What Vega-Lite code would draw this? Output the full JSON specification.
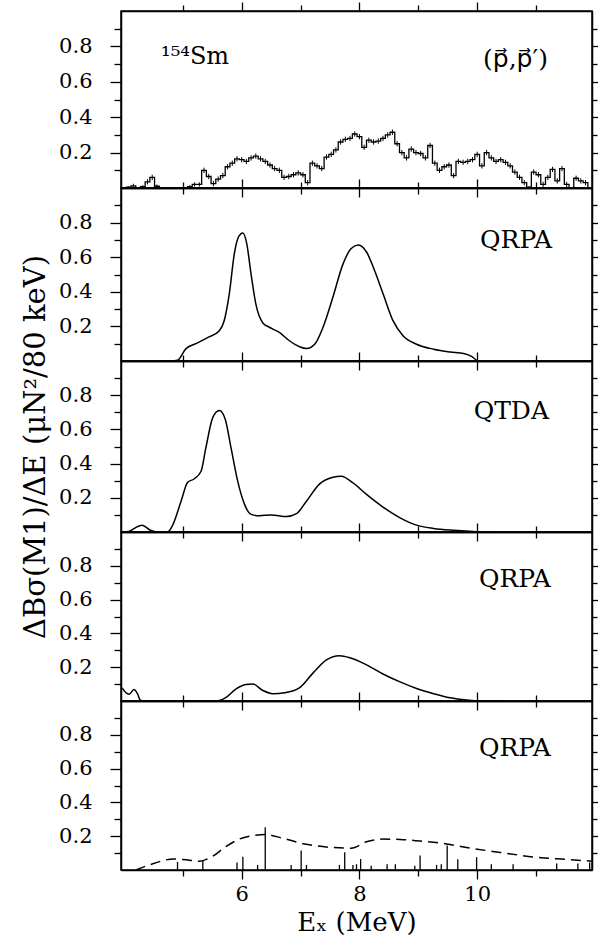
{
  "$schema": "https://vega.github.io/schema/vega-lite/v6.json",
  "padding": {"left": 20, "top": 0, "right": 5, "bottom": 5},
  "spacing": 0,
  "bounds": "flush",
  "datasets": {
    "exp": [
      {"E":4.00,"v":0.0,"err":0},{"E":4.08,"v":0.005,"err":0.005},{"E":4.16,"v":0.012,"err":0.012},{"E":4.24,"v":0.0,"err":0},{"E":4.32,"v":0.008,"err":0.008},
      {"E":4.40,"v":0.035,"err":0.015},{"E":4.48,"v":0.06,"err":0.015},{"E":4.56,"v":0.01,"err":0.01},{"E":4.64,"v":0.0,"err":0},{"E":4.72,"v":0.0,"err":0},
      {"E":4.80,"v":0.0,"err":0},{"E":4.88,"v":0.0,"err":0},{"E":4.96,"v":0.0,"err":0},{"E":5.04,"v":0.0,"err":0},{"E":5.12,"v":0.008,"err":0.008},
      {"E":5.20,"v":0.02,"err":0.012},{"E":5.28,"v":0.02,"err":0.012},{"E":5.36,"v":0.1,"err":0.015},{"E":5.44,"v":0.065,"err":0.015},{"E":5.52,"v":0.025,"err":0.015},
      {"E":5.60,"v":0.05,"err":0.015},{"E":5.68,"v":0.07,"err":0.015},{"E":5.76,"v":0.12,"err":0.015},{"E":5.84,"v":0.14,"err":0.015},{"E":5.92,"v":0.165,"err":0.015},
      {"E":6.00,"v":0.16,"err":0.015},{"E":6.08,"v":0.15,"err":0.015},{"E":6.16,"v":0.17,"err":0.015},{"E":6.24,"v":0.18,"err":0.015},{"E":6.32,"v":0.165,"err":0.015},
      {"E":6.40,"v":0.15,"err":0.015},{"E":6.48,"v":0.13,"err":0.015},{"E":6.56,"v":0.11,"err":0.015},{"E":6.64,"v":0.1,"err":0.015},{"E":6.72,"v":0.06,"err":0.015},
      {"E":6.80,"v":0.065,"err":0.015},{"E":6.88,"v":0.075,"err":0.015},{"E":6.96,"v":0.085,"err":0.015},{"E":7.04,"v":0.075,"err":0.015},{"E":7.12,"v":0.03,"err":0.015},
      {"E":7.20,"v":0.14,"err":0.015},{"E":7.28,"v":0.125,"err":0.015},{"E":7.36,"v":0.11,"err":0.015},{"E":7.44,"v":0.175,"err":0.015},{"E":7.52,"v":0.19,"err":0.015},
      {"E":7.60,"v":0.215,"err":0.015},{"E":7.68,"v":0.26,"err":0.015},{"E":7.76,"v":0.275,"err":0.015},{"E":7.84,"v":0.28,"err":0.015},{"E":7.92,"v":0.305,"err":0.015},
      {"E":8.00,"v":0.29,"err":0.015},{"E":8.08,"v":0.23,"err":0.015},{"E":8.16,"v":0.27,"err":0.015},{"E":8.24,"v":0.26,"err":0.015},{"E":8.32,"v":0.265,"err":0.015},
      {"E":8.40,"v":0.28,"err":0.015},{"E":8.48,"v":0.3,"err":0.015},{"E":8.56,"v":0.315,"err":0.015},{"E":8.64,"v":0.25,"err":0.015},{"E":8.72,"v":0.2,"err":0.015},
      {"E":8.80,"v":0.17,"err":0.015},{"E":8.88,"v":0.22,"err":0.015},{"E":8.96,"v":0.2,"err":0.015},{"E":9.04,"v":0.195,"err":0.015},{"E":9.12,"v":0.17,"err":0.015},
      {"E":9.20,"v":0.24,"err":0.015},{"E":9.28,"v":0.14,"err":0.015},{"E":9.36,"v":0.1,"err":0.015},{"E":9.44,"v":0.12,"err":0.015},{"E":9.52,"v":0.13,"err":0.015},
      {"E":9.60,"v":0.07,"err":0.015},{"E":9.68,"v":0.15,"err":0.015},{"E":9.76,"v":0.145,"err":0.015},{"E":9.84,"v":0.15,"err":0.015},{"E":9.92,"v":0.16,"err":0.015},
      {"E":10.00,"v":0.19,"err":0.015},{"E":10.08,"v":0.125,"err":0.015},{"E":10.16,"v":0.2,"err":0.015},{"E":10.24,"v":0.17,"err":0.015},{"E":10.32,"v":0.15,"err":0.015},
      {"E":10.40,"v":0.16,"err":0.015},{"E":10.48,"v":0.145,"err":0.015},{"E":10.56,"v":0.125,"err":0.015},{"E":10.64,"v":0.09,"err":0.015},{"E":10.72,"v":0.06,"err":0.015},
      {"E":10.80,"v":0.03,"err":0.015},{"E":10.88,"v":0.005,"err":0.005},{"E":10.96,"v":0.09,"err":0.015},{"E":11.04,"v":0.075,"err":0.015},{"E":11.12,"v":0.02,"err":0.015},
      {"E":11.20,"v":0.06,"err":0.015},{"E":11.28,"v":0.105,"err":0.015},{"E":11.36,"v":0.04,"err":0.015},{"E":11.44,"v":0.11,"err":0.015},{"E":11.52,"v":0.02,"err":0.015},
      {"E":11.60,"v":0.0,"err":0},{"E":11.68,"v":0.055,"err":0.015},{"E":11.76,"v":0.04,"err":0.015},{"E":11.84,"v":0.03,"err":0.015},{"E":11.92,"v":0.0,"err":0}
    ],
    "qrpa1": [
      {"E":4.6,"v":0},{"E":4.75,"v":0},{"E":4.91,"v":0.005},{"E":5.05,"v":0.07},{"E":5.22,"v":0.1},{"E":5.42,"v":0.135},{"E":5.62,"v":0.175},
      {"E":5.7,"v":0.23},{"E":5.79,"v":0.39},{"E":5.875,"v":0.62},{"E":5.95,"v":0.72},{"E":6.02,"v":0.74},{"E":6.085,"v":0.68},{"E":6.16,"v":0.5},
      {"E":6.24,"v":0.33},{"E":6.36,"v":0.22},{"E":6.47,"v":0.195},{"E":6.64,"v":0.165},{"E":6.81,"v":0.117},{"E":6.98,"v":0.083},{"E":7.1,"v":0.072},
      {"E":7.24,"v":0.097},{"E":7.38,"v":0.194},{"E":7.55,"v":0.37},{"E":7.72,"v":0.56},{"E":7.86,"v":0.65},{"E":7.98,"v":0.67},{"E":8.12,"v":0.63},
      {"E":8.26,"v":0.52},{"E":8.4,"v":0.39},{"E":8.57,"v":0.233},{"E":8.74,"v":0.146},{"E":8.97,"v":0.097},{"E":9.26,"v":0.068},{"E":9.54,"v":0.052},
      {"E":9.77,"v":0.043},{"E":9.91,"v":0.025},{"E":10.0,"v":0}
    ],
    "qtda": [
      {"E":3.97,"v":0},{"E":4.08,"v":0.003},{"E":4.17,"v":0.02},{"E":4.31,"v":0.04},{"E":4.45,"v":0.01},{"E":4.57,"v":0},{"E":4.74,"v":0},
      {"E":4.82,"v":0.035},{"E":4.97,"v":0.18},{"E":5.08,"v":0.29},{"E":5.19,"v":0.31},{"E":5.31,"v":0.355},{"E":5.39,"v":0.49},{"E":5.51,"v":0.67},
      {"E":5.62,"v":0.71},{"E":5.72,"v":0.66},{"E":5.82,"v":0.49},{"E":5.93,"v":0.3},{"E":6.05,"v":0.16},{"E":6.16,"v":0.103},{"E":6.3,"v":0.095},
      {"E":6.5,"v":0.1},{"E":6.76,"v":0.09},{"E":6.93,"v":0.107},{"E":7.1,"v":0.18},{"E":7.32,"v":0.28},{"E":7.55,"v":0.32},{"E":7.69,"v":0.326},
      {"E":7.89,"v":0.287},{"E":8.12,"v":0.22},{"E":8.4,"v":0.146},{"E":8.69,"v":0.083},{"E":8.97,"v":0.04},{"E":9.26,"v":0.021},{"E":9.6,"v":0.01},
      {"E":10.0,"v":0.002},{"E":10.28,"v":0}
    ],
    "qrpa2": [
      {"E":3.97,"v":0.078},{"E":4.03,"v":0.05},{"E":4.09,"v":0.04},{"E":4.17,"v":0.068},{"E":4.23,"v":0.043},{"E":4.28,"v":0.004},{"E":4.34,"v":0},
      {"E":5.56,"v":0},{"E":5.73,"v":0.02},{"E":5.9,"v":0.07},{"E":6.07,"v":0.097},{"E":6.19,"v":0.1},{"E":6.36,"v":0.062},{"E":6.53,"v":0.043},
      {"E":6.73,"v":0.049},{"E":6.98,"v":0.078},{"E":7.21,"v":0.165},{"E":7.44,"v":0.243},{"E":7.66,"v":0.268},{"E":7.84,"v":0.256},{"E":8.12,"v":0.214},
      {"E":8.4,"v":0.16},{"E":8.69,"v":0.113},{"E":8.97,"v":0.074},{"E":9.26,"v":0.043},{"E":9.54,"v":0.019},{"E":9.82,"v":0.006},{"E":10.1,"v":0},{"E":10.4,"v":0}
    ],
    "qrpa3": [
      {"E":4.2,"v":0},{"E":4.43,"v":0.03},{"E":4.85,"v":0.065},{"E":5.05,"v":0.06},{"E":5.28,"v":0.052},{"E":5.5,"v":0.08},{"E":5.73,"v":0.138},
      {"E":5.96,"v":0.183},{"E":6.24,"v":0.206},{"E":6.41,"v":0.21},{"E":6.7,"v":0.187},{"E":7.1,"v":0.152},{"E":7.55,"v":0.133},{"E":7.86,"v":0.129},
      {"E":8.12,"v":0.167},{"E":8.4,"v":0.183},{"E":8.69,"v":0.181},{"E":9.03,"v":0.171},{"E":9.48,"v":0.154},{"E":9.82,"v":0.133},{"E":10.39,"v":0.104},
      {"E":10.96,"v":0.077},{"E":11.53,"v":0.062},{"E":11.95,"v":0.052}
    ],
    "sticks": [
      {"E":4.91,"v":0.048},{"E":5.34,"v":0.055},{"E":5.92,"v":0.044},{"E":6.02,"v":0.078},{"E":6.27,"v":0.03},{"E":6.4,"v":0.253},
      {"E":6.84,"v":0.029},{"E":7.01,"v":0.116},{"E":7.1,"v":0.03},{"E":7.66,"v":0.03},{"E":7.75,"v":0.105},{"E":7.89,"v":0.03},
      {"E":7.95,"v":0.034},{"E":8.02,"v":0.065},{"E":8.2,"v":0.025},{"E":8.47,"v":0.034},{"E":8.61,"v":0.034},{"E":8.94,"v":0.025},
      {"E":9.03,"v":0.086},{"E":9.31,"v":0.03},{"E":9.39,"v":0.034},{"E":9.49,"v":0.145},{"E":9.67,"v":0.063},{"E":9.99,"v":0.076},
      {"E":10.24,"v":0.034},{"E":10.61,"v":0.034},{"E":11.35,"v":0.038},{"E":11.71,"v":0.038},{"E":11.91,"v":0.044}
    ]
  },
  "vconcat": [
    {
      "width": 471, "height": 177,
      "layer": [
        {"data": {"name": "exp"}, "mark": {"type": "line", "interpolate": "step", "color": "black", "strokeWidth": 1.3},
         "encoding": {
           "x": {"field": "E", "type": "quantitative", "scale": {"domain": [3.95, 11.95], "nice": false, "zero": false},
                 "axis": {"orient": "bottom", "values": [5,6,7,8,9,10,11], "labels": false, "title": null, "tickSize": {"condition": {"test": "datum.value % 2 == 0", "value": 9}, "value": 6}}},
           "y": {"field": "v", "type": "quantitative", "scale": {"domain": [0, 1], "nice": false},
                 "axis": {"orient": "left", "values": [0.1,0.2,0.3,0.4,0.5,0.6,0.7,0.8,0.9], "title": null, "labelExpr": "round(datum.value*10) % 2 == 0 ? format(datum.value, '.1f') : ''", "labelPadding": 18, "tickSize": {"condition": {"test": "round(datum.value*10) % 2 == 0", "value": 11}, "value": 7}}}
         }},
        {"data": {"name": "exp"}, "mark": {"type": "errorbar", "ticks": false, "color": "black", "thickness": 1},
         "encoding": {
           "x": {"field": "E", "type": "quantitative", "axis": null},
           "y": {"field": "v", "type": "quantitative", "axis": null},
           "yError": {"field": "err"}
         }},
        {"data": {"values": [{}]}, "mark": {"type": "text", "font": "DejaVu Serif", "fontSize": 24, "align": "left", "baseline": "alphabetic", "color": "black"},
         "encoding": {
           "x": {"datum": 4.63, "type": "quantitative", "axis": {"orient": "top", "values": [5,6,7,8,9,10,11], "labels": false, "title": null, "tickSize": {"condition": {"test": "datum.value % 2 == 0", "value": 9}, "value": 6}}},
           "y": {"datum": 0.7, "type": "quantitative", "axis": {"orient": "right", "values": [0.1,0.2,0.3,0.4,0.5,0.6,0.7,0.8,0.9], "labels": false, "title": null, "tickSize": {"condition": {"test": "round(datum.value*10) % 2 == 0", "value": 7}, "value": 5}}},
           "text": {"value": "¹⁵⁴Sm"}
         }},
        {"data": {"values": [{}]}, "mark": {"type": "text", "font": "DejaVu Serif, DejaVu Sans", "fontSize": 25, "align": "center", "baseline": "middle", "color": "black"},
         "encoding": {
           "x": {"datum": 10.65, "type": "quantitative", "axis": null},
           "y": {"datum": 0.73, "type": "quantitative", "axis": null},
           "text": {"value": "(p⃗,p⃗′)"}
         }}
      ],
      "resolve": {"axis": {"x": "independent", "y": "independent"}}
    },
    {
      "width": 471, "height": 173,
      "layer": [
        {"data": {"name": "qrpa1"}, "mark": {"type": "line", "interpolate": "monotone", "color": "black", "strokeWidth": 1.5},
         "encoding": {
           "x": {"field": "E", "type": "quantitative", "scale": {"domain": [3.95, 11.95], "nice": false, "zero": false},
                 "axis": {"orient": "bottom", "values": [5,6,7,8,9,10,11], "labels": false, "title": null, "tickSize": {"condition": {"test": "datum.value % 2 == 0", "value": 9}, "value": 6}}},
           "y": {"field": "v", "type": "quantitative", "scale": {"domain": [0, 1], "nice": false},
                 "axis": {"orient": "left", "values": [0.1,0.2,0.3,0.4,0.5,0.6,0.7,0.8,0.9], "title": null, "labelExpr": "round(datum.value*10) % 2 == 0 ? format(datum.value, '.1f') : ''", "labelPadding": 18, "tickSize": {"condition": {"test": "round(datum.value*10) % 2 == 0", "value": 11}, "value": 7}}}
         }},
        {"data": {"values": [{}]}, "mark": {"type": "text", "font": "DejaVu Serif", "fontSize": 25, "align": "center", "baseline": "middle", "color": "black"},
         "encoding": {
           "x": {"datum": 10.66, "type": "quantitative", "axis": {"orient": "top", "values": [5,6,7,8,9,10,11], "labels": false, "title": null, "tickSize": {"condition": {"test": "datum.value % 2 == 0", "value": 9}, "value": 6}}},
           "y": {"datum": 0.7, "type": "quantitative", "axis": {"orient": "right", "values": [0.1,0.2,0.3,0.4,0.5,0.6,0.7,0.8,0.9], "labels": false, "title": null, "tickSize": {"condition": {"test": "round(datum.value*10) % 2 == 0", "value": 7}, "value": 5}}},
           "text": {"value": "QRPA"}
         }}
      ],
      "resolve": {"axis": {"x": "independent", "y": "independent"}}
    },
    {
      "width": 471, "height": 171,
      "layer": [
        {"data": {"name": "qtda"}, "mark": {"type": "line", "interpolate": "monotone", "color": "black", "strokeWidth": 1.5},
         "encoding": {
           "x": {"field": "E", "type": "quantitative", "scale": {"domain": [3.95, 11.95], "nice": false, "zero": false},
                 "axis": {"orient": "bottom", "values": [5,6,7,8,9,10,11], "labels": false, "title": null, "tickSize": {"condition": {"test": "datum.value % 2 == 0", "value": 9}, "value": 6}}},
           "y": {"field": "v", "type": "quantitative", "scale": {"domain": [0, 1], "nice": false},
                 "axis": {"orient": "left", "values": [0.1,0.2,0.3,0.4,0.5,0.6,0.7,0.8,0.9], "title": "ΔBσ(M1)/ΔE  (μN²/80 keV)", "titleFontSize": 29, "titlePadding": 8, "labelExpr": "round(datum.value*10) % 2 == 0 ? format(datum.value, '.1f') : ''", "labelPadding": 18, "tickSize": {"condition": {"test": "round(datum.value*10) % 2 == 0", "value": 11}, "value": 7}}}
         }},
        {"data": {"values": [{}]}, "mark": {"type": "text", "font": "DejaVu Serif", "fontSize": 25, "align": "center", "baseline": "middle", "color": "black"},
         "encoding": {
           "x": {"datum": 10.58, "type": "quantitative", "axis": {"orient": "top", "values": [5,6,7,8,9,10,11], "labels": false, "title": null, "tickSize": {"condition": {"test": "datum.value % 2 == 0", "value": 9}, "value": 6}}},
           "y": {"datum": 0.71, "type": "quantitative", "axis": {"orient": "right", "values": [0.1,0.2,0.3,0.4,0.5,0.6,0.7,0.8,0.9], "labels": false, "title": null, "tickSize": {"condition": {"test": "round(datum.value*10) % 2 == 0", "value": 7}, "value": 5}}},
           "text": {"value": "QTDA"}
         }}
      ],
      "resolve": {"axis": {"x": "independent", "y": "independent"}}
    },
    {
      "width": 471, "height": 169,
      "layer": [
        {"data": {"name": "qrpa2"}, "mark": {"type": "line", "interpolate": "monotone", "color": "black", "strokeWidth": 1.5},
         "encoding": {
           "x": {"field": "E", "type": "quantitative", "scale": {"domain": [3.95, 11.95], "nice": false, "zero": false},
                 "axis": {"orient": "bottom", "values": [5,6,7,8,9,10,11], "labels": false, "title": null, "tickSize": {"condition": {"test": "datum.value % 2 == 0", "value": 9}, "value": 6}}},
           "y": {"field": "v", "type": "quantitative", "scale": {"domain": [0, 1], "nice": false},
                 "axis": {"orient": "left", "values": [0.1,0.2,0.3,0.4,0.5,0.6,0.7,0.8,0.9], "title": null, "labelExpr": "round(datum.value*10) % 2 == 0 ? format(datum.value, '.1f') : ''", "labelPadding": 18, "tickSize": {"condition": {"test": "round(datum.value*10) % 2 == 0", "value": 11}, "value": 7}}}
         }},
        {"data": {"values": [{}]}, "mark": {"type": "text", "font": "DejaVu Serif", "fontSize": 25, "align": "center", "baseline": "middle", "color": "black"},
         "encoding": {
           "x": {"datum": 10.64, "type": "quantitative", "axis": {"orient": "top", "values": [5,6,7,8,9,10,11], "labels": false, "title": null, "tickSize": {"condition": {"test": "datum.value % 2 == 0", "value": 9}, "value": 6}}},
           "y": {"datum": 0.72, "type": "quantitative", "axis": {"orient": "right", "values": [0.1,0.2,0.3,0.4,0.5,0.6,0.7,0.8,0.9], "labels": false, "title": null, "tickSize": {"condition": {"test": "round(datum.value*10) % 2 == 0", "value": 7}, "value": 5}}},
           "text": {"value": "QRPA"}
         }}
      ],
      "resolve": {"axis": {"x": "independent", "y": "independent"}}
    },
    {
      "width": 471, "height": 169,
      "layer": [
        {"data": {"name": "sticks"}, "mark": {"type": "rule", "color": "black", "strokeWidth": 1.3},
         "encoding": {
           "x": {"field": "E", "type": "quantitative", "axis": null},
           "y": {"field": "v", "type": "quantitative", "axis": null},
           "y2": {"datum": 0}
         }},
        {"data": {"name": "qrpa3"}, "mark": {"type": "line", "interpolate": "monotone", "color": "black", "strokeWidth": 1.5, "strokeDash": [10, 6]},
         "encoding": {
           "x": {"field": "E", "type": "quantitative", "scale": {"domain": [3.95, 11.95], "nice": false, "zero": false},
                 "axis": {"orient": "bottom", "values": [5,6,7,8,9,10,11], "labelExpr": "datum.value % 2 == 0 ? datum.label : ''", "labelPadding": 4, "title": "Eₓ (MeV)", "titleFontSize": 26, "titlePadding": 5, "tickSize": {"condition": {"test": "datum.value % 2 == 0", "value": 9}, "value": 6}}},
           "y": {"field": "v", "type": "quantitative", "scale": {"domain": [0, 1], "nice": false},
                 "axis": {"orient": "left", "values": [0.1,0.2,0.3,0.4,0.5,0.6,0.7,0.8,0.9], "title": null, "labelExpr": "round(datum.value*10) % 2 == 0 ? format(datum.value, '.1f') : ''", "labelPadding": 18, "tickSize": {"condition": {"test": "round(datum.value*10) % 2 == 0", "value": 11}, "value": 7}}}
         }},
        {"data": {"values": [{}]}, "mark": {"type": "text", "font": "DejaVu Serif", "fontSize": 25, "align": "center", "baseline": "middle", "color": "black"},
         "encoding": {
           "x": {"datum": 10.64, "type": "quantitative", "axis": {"orient": "top", "values": [5,6,7,8,9,10,11], "labels": false, "title": null, "tickSize": {"condition": {"test": "datum.value % 2 == 0", "value": 9}, "value": 6}}},
           "y": {"datum": 0.72, "type": "quantitative", "axis": {"orient": "right", "values": [0.1,0.2,0.3,0.4,0.5,0.6,0.7,0.8,0.9], "labels": false, "title": null, "tickSize": {"condition": {"test": "round(datum.value*10) % 2 == 0", "value": 7}, "value": 5}}},
           "text": {"value": "QRPA"}
         }}
      ],
      "resolve": {"axis": {"x": "independent", "y": "independent"}}
    }
  ],
  "config": {
    "view": {"stroke": "black", "strokeWidth": 1.5},
    "axis": {"domainColor": "black", "domainWidth": 1.5, "tickColor": "black", "tickWidth": 1.3, "labelColor": "black", "labelFont": "DejaVu Serif", "labelFontSize": 21, "titleFont": "DejaVu Serif", "titleFontSize": 21, "titleFontWeight": "normal", "titleColor": "black", "grid": false}
  }
}
